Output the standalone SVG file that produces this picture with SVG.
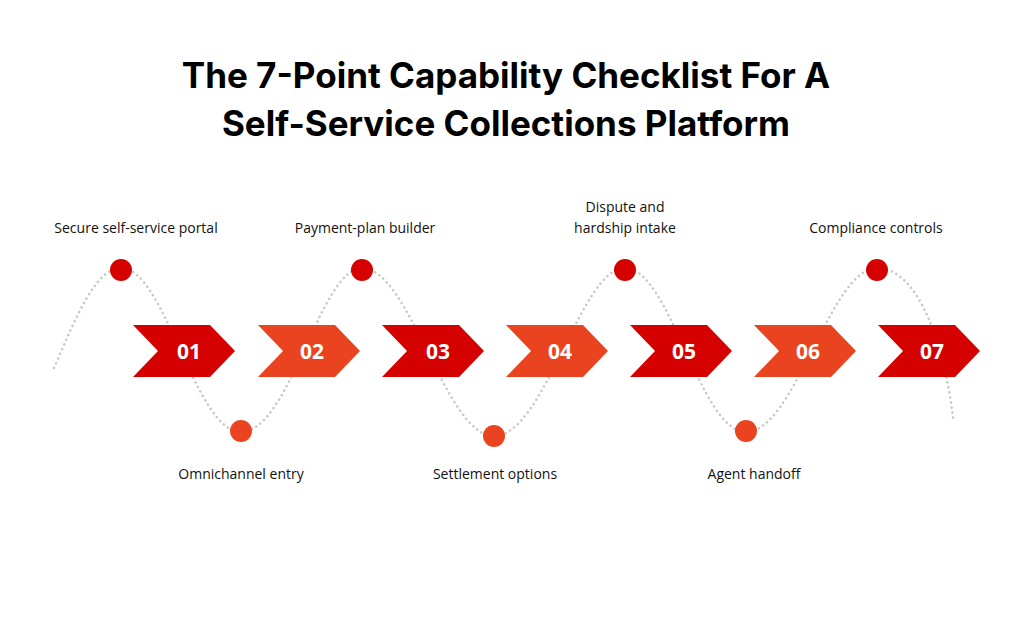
<svg xmlns="http://www.w3.org/2000/svg" width="1012" height="618" viewBox="0 0 1012 618">
<style>
.t{font-family:Inter,"Liberation Sans",sans-serif;font-weight:700;font-size:35px;fill:#000;text-anchor:middle}
.l{font-family:"Open Sans","Noto Sans",sans-serif;font-size:14px;fill:#111;text-anchor:middle}
.n{font-family:"Open Sans","Noto Sans",sans-serif;font-weight:700;font-size:21px;fill:#fff;text-anchor:middle}
.r{fill:#D50000}.o{fill:#EA4320}
.w{fill:none;stroke:#c8c8c2;stroke-width:2.5;stroke-dasharray:0.1 5;stroke-linecap:round}
</style>
<defs><path id="c" d="M0,0 L77,0 L102,26 L77,52 L0,52 L25,26 Z"/></defs>
<rect width="1012" height="618" fill="#fff"/>
<text class="t" x="506" y="88">The 7-Point Capability Checklist For A</text>
<text class="t" x="506" y="136">Self-Service Collections Platform</text>
<g id="connectors">
<path class="w" d="M54,368 C75,320 95,268 121,268 C165,268 195,432 241,432 C290,432 320,268 362,268 C410,268 445,436 494,436 C545,436 580,268 625,268 C670,268 700,432 746,432 C795,432 830,268 877,268 C920,268 945,350 953,418"/>
</g>
<g id="n1"><use href="#c" x="133" y="325" class="r"/><text class="n" x="189" y="359">01</text><circle cx="121" cy="270" r="11" class="r"/><text class="l" x="136" y="233">Secure self-service portal</text></g>
<g id="n2"><use href="#c" x="258" y="325" class="o"/><text class="n" x="312" y="359">02</text><circle cx="241" cy="431" r="11" class="o"/><text class="l" x="241" y="479">Omnichannel entry</text></g>
<g id="n3"><use href="#c" x="382" y="325" class="r"/><text class="n" x="438" y="359">03</text><circle cx="362" cy="270" r="11" class="r"/><text class="l" x="365" y="233">Payment-plan builder</text></g>
<g id="n4"><use href="#c" x="506" y="325" class="o"/><text class="n" x="560" y="359">04</text><circle cx="494" cy="436" r="11" class="o"/><text class="l" x="495" y="479">Settlement options</text></g>
<g id="n5"><use href="#c" x="630" y="325" class="r"/><text class="n" x="684" y="359">05</text><circle cx="625" cy="270" r="11" class="r"/><text class="l" x="625" y="212">Dispute and</text><text class="l" x="625" y="233">hardship intake</text></g>
<g id="n6"><use href="#c" x="754" y="325" class="o"/><text class="n" x="808" y="359">06</text><circle cx="746" cy="431" r="11" class="o"/><text class="l" x="754" y="479">Agent handoff</text></g>
<g id="n7"><use href="#c" x="878" y="325" class="r"/><text class="n" x="932" y="359">07</text><circle cx="877" cy="270" r="11" class="r"/><text class="l" x="876" y="233">Compliance controls</text></g>
</svg>
